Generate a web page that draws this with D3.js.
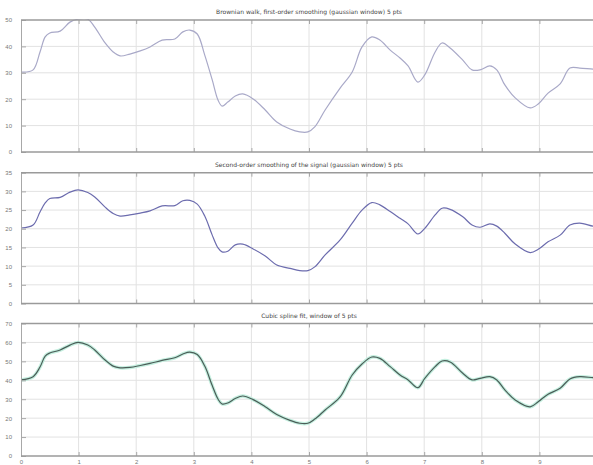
<!DOCTYPE html>
<html>
<head>
<meta charset="utf-8">
<script src="https://cdn.jsdelivr.net/npm/d3@7"></script>
<style>
  html, body { margin: 0; padding: 0; background: #fff; }
  svg { display: block; font-family: "DejaVu Sans", sans-serif; }
  .grid line { stroke: #e2e2e2; stroke-width: 1; }
  .frame { stroke: #9a9a9a; stroke-width: 1.5; }
  .ax path { stroke: #a8a8a8; }
  .ax line { stroke: #a8a8a8; }
  .ax text { fill: #777; font-size: 6px; }
  .title { fill: #444; font-size: 6px; }
</style>
</head>
<body>
<svg id="chart" width="593" height="465"></svg>
<script>
// shared x positions (same sampling for the 3 panels)
const xs = [0, 0.21, 0.33, 0.42, 0.50, 0.68, 0.85, 0.99, 1.16, 1.28, 1.46, 1.60, 1.72, 1.89, 2.07, 2.24,
  2.45, 2.67, 2.81, 2.93, 3.06, 3.19, 3.32, 3.42, 3.49, 3.59, 3.72, 3.85, 4.03, 4.24, 4.44, 4.67,
  4.84, 4.98, 5.10, 5.28, 5.54, 5.75, 5.92, 6.09, 6.23, 6.41, 6.58, 6.72, 6.89, 7.01, 7.19, 7.31,
  7.45, 7.67, 7.83, 7.97, 8.14, 8.26, 8.40, 8.58, 8.84, 8.98, 9.15, 9.36, 9.53, 9.70, 9.93, 10]

const series1 = [30.3, 31.1, 37.9, 43.6, 45.1, 45.8, 49.2, 50.3, 50.3, 47.3, 41.3, 37.9, 36.4, 37.1, 38.3, 39.8,
  42.4, 42.8, 45.5, 46.2, 44.7, 36.7, 27.3, 19.7, 17.4, 18.9, 21.2, 22.0, 20.1, 15.9, 11.4, 8.7,
  7.6, 7.6, 9.5, 15.9, 24.2, 30.3, 39.8, 43.6, 42.4, 38.6, 35.6, 32.6, 26.5, 29.2, 37.9, 41.3,
  39.4, 34.8, 31.1, 31.1, 32.6, 31.1, 25.4, 20.5, 16.7, 18.2, 22.3, 25.8, 31.8, 31.8, 31.4, 31.4]

const series2 = [20.2, 21.0, 24.5, 26.9, 28.1, 28.4, 29.8, 30.4, 29.7, 28.5, 25.8, 24.1, 23.4, 23.7, 24.2, 24.8,
  26.1, 26.2, 27.5, 27.6, 26.6, 23.4, 18.3, 14.9, 13.8, 14.0, 15.7, 15.9, 14.6, 12.7, 10.3, 9.4,
  8.8, 8.8, 9.8, 13.0, 17.0, 21.5, 25.0, 27.0, 26.4, 24.6, 22.8, 21.3, 18.6, 20.1, 23.7, 25.5,
  25.2, 23.2, 21.0, 20.4, 21.3, 20.7, 18.8, 15.9, 13.6, 14.5, 16.5, 18.3, 21.0, 21.5, 20.7, 20.7]

const series3 = [40.2, 41.9, 47.0, 52.8, 54.4, 56.0, 58.6, 60.0, 58.6, 56.0, 50.7, 47.5, 46.6, 46.8, 47.8, 48.9,
  50.5, 51.9, 53.9, 54.9, 53.6, 47.5, 37.2, 30.1, 27.5, 28.0, 30.4, 31.7, 29.8, 26.0, 21.9, 18.8,
  17.3, 17.3, 19.5, 24.3, 31.2, 42.8, 48.6, 52.3, 51.6, 47.2, 42.8, 40.2, 36.1, 41.0, 47.2, 50.2,
  49.7, 43.7, 40.2, 41.0, 41.9, 40.2, 34.9, 29.6, 26.0, 28.7, 32.6, 35.8, 40.7, 41.9, 41.4, 41.4]

const titles = [
  "Brownian walk, first-order smoothing (gaussian window) 5 pts",
  "Second-order smoothing of the signal (gaussian window) 5 pts",
  "Cubic spline fit, window of 5 pts"
]
const xTicks = [0, 1, 2, 3, 4, 5, 6, 7, 8, 9, 10]
const xTickLabels = ["0", "1", "2", "3", "4", "5", "6", "7", "8", "9", ""]
const yTicks1 = [0, 10, 20, 30, 40, 50]
const yTicks2 = [0, 5, 10, 15, 20, 25, 30, 35]
const yTicks3 = [0, 10, 20, 30, 40, 50, 60, 70]

const svg = d3.select("#chart")
const left = 21, right = 597

const x = d3.scaleLinear().domain([0, 10]).range([left, right])

const panels = [
  {data: series1, ticks: yTicks1, top: 20, bottom: 152, color: "#a9a9c8", halo: null, title: titles[0], labels: false},
  {data: series2, ticks: yTicks2, top: 172.7, bottom: 303.5, color: "#6c6cae", halo: null, title: titles[1], labels: false},
  {data: series3, ticks: yTicks3, top: 323.5, bottom: 456, color: "#4b5d58", halo: "#c4efdf", title: titles[2], labels: true}
]

panels.forEach((p, k) => {
  const y = d3.scaleLinear()
    .domain([p.ticks[0], p.ticks[p.ticks.length - 1]])
    .range([p.bottom, p.top])
  const g = svg.append("g")

  // grid
  const grid = g.append("g").attr("class", "grid")
  grid.selectAll(".h").data(p.ticks.slice(1, -1)).join("line")
    .attr("x1", left).attr("x2", right)
    .attr("y1", d => y(d)).attr("y2", d => y(d))
  grid.selectAll(".v").data(xTicks.slice(1)).join("line")
    .attr("x1", d => x(d)).attr("x2", d => x(d))
    .attr("y1", p.top).attr("y2", p.bottom)

  // clip
  const clipId = "clip" + k
  svg.append("clipPath").attr("id", clipId)
    .append("rect").attr("x", left).attr("y", p.top - 1)
    .attr("width", right - left).attr("height", p.bottom - p.top + 2)

  const line = d3.line()
    .x((d, i) => x(xs[i]))
    .y(d => y(d))
    .curve(d3.curveCatmullRom.alpha(0.5))

  if (p.halo) {
    g.append("path").datum(p.data)
      .attr("clip-path", `url(#${clipId})`)
      .attr("d", line).attr("fill", "none")
      .attr("stroke", p.halo).attr("stroke-width", 3.5)
  }
  g.append("path").datum(p.data)
    .attr("clip-path", `url(#${clipId})`)
    .attr("d", line).attr("fill", "none")
    .attr("stroke", p.color).attr("stroke-width", 1.2)

  // x ticks (inward, top and bottom)
  g.append("g").attr("class", "ax")
    .attr("transform", `translate(0,${p.bottom})`)
    .call(d3.axisBottom(x).tickValues(xTicks).tickSize(-4).tickPadding(4)
      .tickFormat((d, i) => p.labels ? xTickLabels[i] : ""))
    .call(a => a.select(".domain").remove())
  g.append("g").attr("class", "ax")
    .attr("transform", `translate(0,${p.top})`)
    .call(d3.axisTop(x).tickValues(xTicks).tickSize(-4).tickFormat(""))
    .call(a => a.select(".domain").remove())

  // y axis
  g.append("g").attr("class", "ax")
    .attr("transform", `translate(${left},0)`)
    .call(d3.axisLeft(y).tickValues(p.ticks).tickSize(-5).tickPadding(9).tickSizeOuter(0))

  // frame top / bottom
  g.append("line").attr("class", "frame")
    .attr("x1", left).attr("x2", right).attr("y1", p.top).attr("y2", p.top)
  g.append("line").attr("class", "frame")
    .attr("x1", left).attr("x2", right).attr("y1", p.bottom).attr("y2", p.bottom)

  g.append("text").attr("class", "title")
    .attr("x", (left + right) / 2).attr("y", p.top - 6)
    .attr("text-anchor", "middle")
    .text(p.title)
})
</script>
</body>
</html>
